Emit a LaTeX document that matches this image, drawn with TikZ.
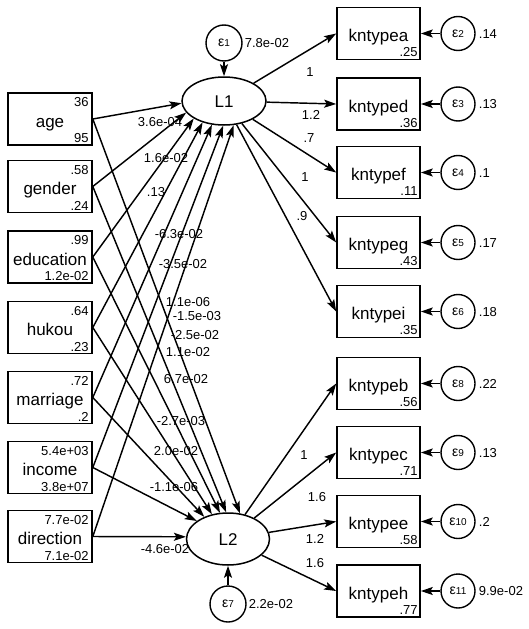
\documentclass[tikz,border=0pt]{standalone}
\usepackage{fontspec}
\setmainfont{Liberation Sans}
\usetikzlibrary{arrows.meta,shapes.geometric,calc}
\newcommand\epslab[1]{{\fontsize{14}{14}\selectfont ε}{\fontsize{10}{10}\selectfont #1}}
\begin{document}
\begin{tikzpicture}[x=1pt,y=-1pt,
  obs/.style={draw,line width=1.6pt,minimum width=84pt,minimum height=52pt,inner sep=0pt,
    font=\fontsize{17}{17}\selectfont,text height=16pt,text depth=0pt},
  lat/.style={ellipse,draw,line width=1.5pt,minimum width=84pt,minimum height=48pt,inner sep=0pt,
    font=\fontsize{17}{17}\selectfont,text height=13pt,text depth=0pt},
  err/.style={circle,draw,line width=1.4pt,minimum size=34pt,inner sep=0pt},
  val/.style={inner sep=0pt,font=\fontsize{13}{13}\selectfont,text height=9.5pt,text depth=0pt},
  arr/.style={line width=1.45pt,-{Stealth[length=12pt,width=8pt,inset=2.5pt]}}
]
\useasboundingbox (0,0) rectangle (529,629);

% latent variables
\node[lat] (L1) at (224,101) {L1};
\node[lat,minimum width=83pt,minimum height=52pt] (L2) at (228,539) {L2};
\node[err,minimum size=36pt] (e1) at (224,43) {\epslab{1}};
\node[val,anchor=west] (e1v) at ($(e1.east)+(2,0)$) {7.8e-02};
\node[err,minimum size=36pt] (e7) at (228,604) {\epslab{7}};
\node[val,anchor=west] (e7v) at ($(e7.east)+(2,0)$) {2.2e-02};
\draw[arr] (e1) -- (L1);
\draw[arr] (e7) -- (L2);

% observed exogenous variables
\foreach \n/\y/\a/\b/\p/\q in {age/119/36/95/183/65, gender/186.5/.58/.24/197/94,
  education/257/.99/1.2e-02/210/107, hukou/327.5/.64/.23/225/123,
  marriage/397.5/.72/.2/243/137, income/467.5/5.4e+03/3.8e+07/268/150,
  direction/536.5/7.7e-02/7.1e-02/292/177}{
  \node[obs] (\n) at (50,\y) {\n};
  \node[val,anchor=east] (\n-t) at ($(\n.north east)+(-4,10)$) {\a};
  \node[val,anchor=east] (\n-b) at ($(\n.south east)+(-4,-8)$) {\b};
  \draw[arr] (\n.east) -- (L1.\p);
  \draw[arr] (\n.east) -- (L2.\q);
}

% indicators
\foreach \n/\y/\v/\e/\ev/\L in {kntypea/33.5/.25/2/.14/L1, kntyped/104/.36/3/.13/L1,
  kntypef/172.5/.11/4/.1/L1, kntypeg/242.5/.43/5/.17/L1, kntypei/311.5/.35/6/.18/L1,
  kntypeb/383.5/.56/8/.22/L2, kntypec/452.5/.71/9/.13/L2, kntypee/521.5/.58/10/.2/L2,
  kntypeh/591/.77/11/9.9e-02/L2}{
  \node[obs,minimum width=83pt] (\n) at (378.5,\y) {\n};
  \node[val,anchor=east] (\n-v) at ($(\n.south east)+(-3,-8.5)$) {\v};
  \node[err] (e\e) at (458,\y) {\epslab{\e}};
  \node[val,anchor=west] (e\e-v) at ($(e\e.east)+(3,0)$) {\ev};
  \draw[arr] (e\e) -- (\n);
  \draw[arr] (\L) -- (\n.west);
}

% path coefficients
\foreach \x/\y/\t [count=\i] in {160/122/3.6e-04, 166/158/1.6e-02, 156/192/.13,
  179/234/-6.3e-02, 183/264/-3.5e-02, 188/302/1.1e-06, 197/316/-1.5e-03,
  195/335/-2.5e-02, 188/352/1.1e-02, 186/379/6.7e-02, 181/421/-2.7e-03,
  176/451/2.0e-02, 174/487/-1.1e-06, 165/549/-4.6e-02,
  310/72/1, 311/115/1.2, 309/138/.7, 305/177/1, 302/216/.9,
  304/455/1, 317/497/1.6, 315/539/1.2, 315/563/1.6}{
  \node[val] (c\i) at (\x,\y) {\t};
}
\end{tikzpicture}
\end{document}
